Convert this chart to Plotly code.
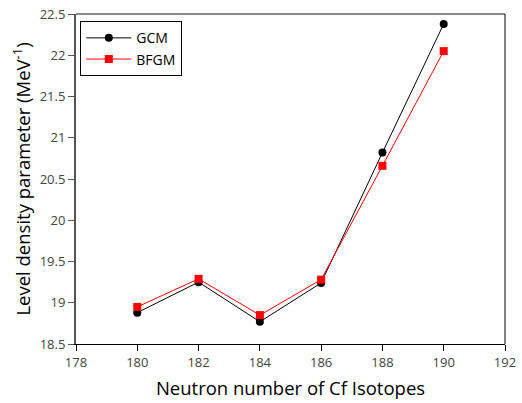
import plotly.graph_objects as go

neutrons = [180, 182, 184, 186, 188, 190]
gcm = [18.88, 19.25, 18.77, 19.24, 20.82, 22.38]
bfgm = [18.95, 19.29, 18.85, 19.28, 20.66, 22.05]

fig = go.Figure()
fig.add_trace(go.Scatter(
    x=neutrons, y=gcm, name="GCM", mode="lines+markers",
    line=dict(color="black", width=1),
    marker=dict(symbol="circle", size=8, color="black"),
))
fig.add_trace(go.Scatter(
    x=neutrons, y=bfgm, name="BFGM", mode="lines+markers",
    line=dict(color="red", width=1),
    marker=dict(symbol="square", size=8, color="red"),
))

family = "Open Sans, DejaVu Sans, sans-serif"
axis_font = dict(family=family, size=13, color="#444")
title_font = dict(family=family, size=18.5, color="black")

fig.update_layout(
    width=522, height=403,
    margin=dict(l=76, r=17, t=14, b=59, autoexpand=False),
    paper_bgcolor="white", plot_bgcolor="white",
    showlegend=True,
    legend=dict(
        x=0.01, y=0.978, xanchor="left", yanchor="top",
        bordercolor="black", borderwidth=1, bgcolor="white",
        font=dict(family=family, size=14, color="black"),
        tracegroupgap=0, itemwidth=45,
    ),
    xaxis=dict(
        range=[178, 192], tickmode="array",
        tickvals=[178, 180, 182, 184, 186, 188, 190, 192],
        ticks="outside", ticklen=6, tickcolor="black", tickwidth=1,
        showline=True, linecolor="black", linewidth=1, mirror=False,
        showgrid=False, zeroline=False, tickfont=axis_font, automargin=False,
        title=dict(text="Neutron number of Cf Isotopes", font=title_font, standoff=12),
    ),
    yaxis=dict(
        range=[18.5, 22.5], tickmode="array",
        tickvals=[18.5, 19, 19.5, 20, 20.5, 21, 21.5, 22, 22.5],
        ticktext=["18.5", "19", "19.5", "20", "20.5", "21", "21.5", "22", "22.5"],
        ticks="outside", ticklen=6, tickcolor="#555", tickwidth=1,
        showline=True, linecolor="#555", linewidth=2, mirror=False,
        showgrid=False, zeroline=False, tickfont=axis_font, automargin=False,
        title=dict(text="Level density parameter (MeV<sup>-1</sup>)", font=title_font, standoff=4),
    ),
)

# top and right frame lines
fig.add_shape(type="line", xref="paper", yref="paper", x0=0, x1=1, y0=1, y1=1,
              line=dict(color="#666", width=1.5))
fig.add_shape(type="line", xref="paper", yref="paper", x0=1, x1=1, y0=0, y1=1,
              line=dict(color="black", width=1))

fig.write_html("out.html")
